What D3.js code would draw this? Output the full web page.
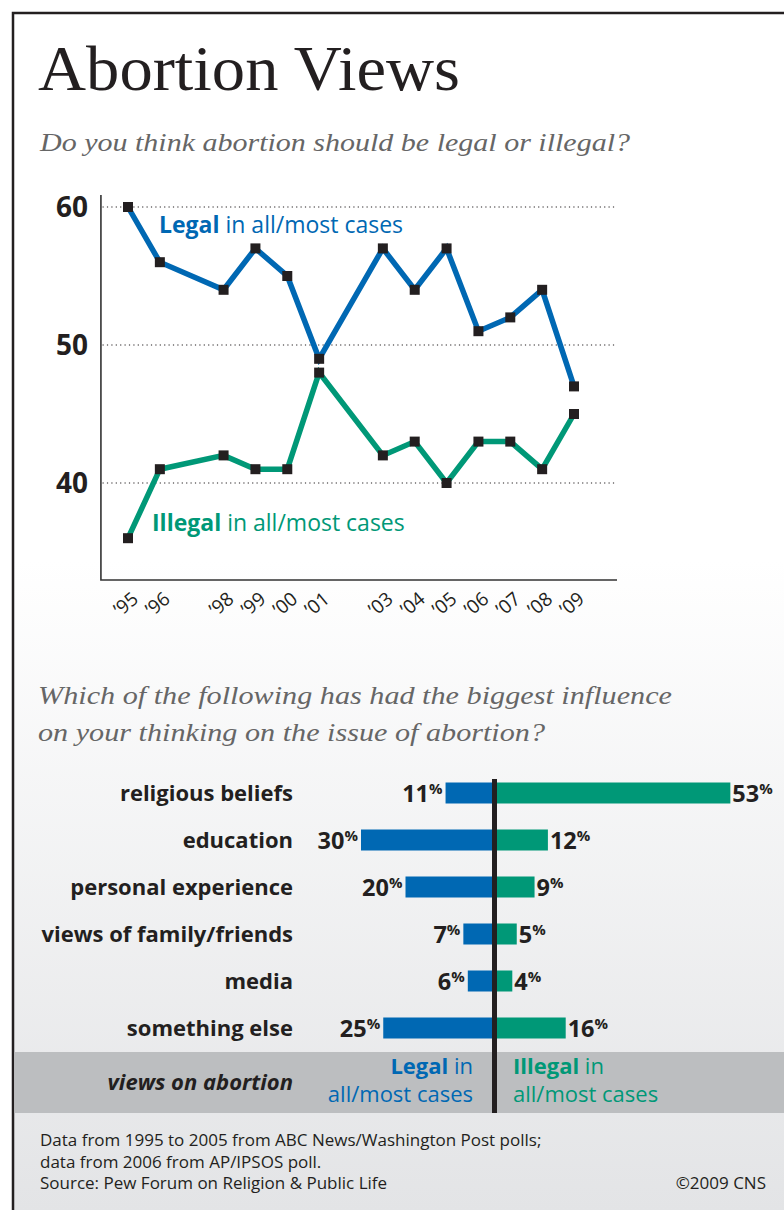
<!DOCTYPE html>
<html><head><meta charset="utf-8">
<script src="https://cdn.jsdelivr.net/npm/d3@7/dist/d3.min.js"></script>
<style>
html,body{margin:0;padding:0;background:#fff;}
svg{display:block;}
</style></head>
<body>
<script>
// ---- data ----
const years = [1995, 1996, 1998, 1999, 2000, 2001, 2003, 2004, 2005, 2006, 2007, 2008, 2009];
const yearLabels = ["’95","’96","’98","’99","’00","’01","’03","’04","’05","’06","’07","’08","’09"];
const legalPct = [60, 56, 54, 57, 55, 49, 57, 54, 57, 51, 52, 54, 47];
const illegalPct = [36, 41, 42, 41, 41, 48, 42, 43, 40, 43, 43, 41, 45];
const yTicks = [40, 50, 60];

const influences = ["religious beliefs", "education", "personal experience", "views of family/friends", "media", "something else"];
const influenceLegal = [11, 30, 20, 7, 6, 25];
const influenceIllegal = [53, 12, 9, 5, 4, 16];

const BLUE = "#0068b3", GREEN = "#009877", INK = "#231f20";
const SANS = "'Open Sans', 'Noto Sans', sans-serif";
const SERIF = "'Liberation Serif', 'DejaVu Serif', serif";

const W = 784, H = 1210;
const svg = d3.select("body").append("svg").attr("width", W).attr("height", H);

const defs = svg.append("defs");
const grad = defs.append("linearGradient").attr("id", "bg").attr("gradientUnits", "userSpaceOnUse")
  .attr("x1", 0).attr("y1", 560).attr("x2", 0).attr("y2", 1210);
grad.append("stop").attr("offset", 0).attr("stop-color", "#ffffff");
grad.append("stop").attr("offset", 1).attr("stop-color", "#e3e4e6");

svg.append("rect").attr("x", 13).attr("y", 13).attr("width", W).attr("height", H).attr("fill", "url(#bg)");
svg.append("path").attr("d", `M13,${H} L13,13 L${W},13`).attr("fill", "none").attr("stroke", INK).attr("stroke-width", 2.5);

// ---- titles ----
svg.append("text").attr("x", 38).attr("y", 90).attr("font-family", SERIF).attr("font-size", 64)
  .attr("fill", INK).attr("textLength", 422).attr("lengthAdjust", "spacingAndGlyphs").text("Abortion Views");
svg.append("text").attr("x", 40).attr("y", 151).attr("font-family", SERIF).attr("font-style", "italic")
  .attr("font-size", 26).attr("fill", "#666").attr("textLength", 590).attr("lengthAdjust", "spacingAndGlyphs")
  .text("Do you think abortion should be legal or illegal?");

// ---- line chart ----
const x = d3.scaleLinear().domain([1995, 2009]).range([128, 574]);
const y = d3.scaleLinear().domain([40, 60]).range([483, 207]);
const lc = svg.append("g");

// grid
lc.selectAll("line.grid").data(yTicks).join("line")
  .attr("x1", x(1994.2)).attr("x2", x(2010.3)).attr("y1", d => y(d)).attr("y2", d => y(d))
  .attr("stroke", INK).attr("stroke-width", 1.2).attr("stroke-dasharray", "1.2,3.2");
// axes
lc.append("path").attr("d", `M${x(1994.15)},${y(60.87)} L${x(1994.15)},${y(32.97)} L${x(2010.35)},${y(32.97)}`)
  .attr("fill", "none").attr("stroke", "#333").attr("stroke-width", 1.6);
lc.selectAll("text.yt").data(yTicks).join("text")
  .attr("x", 88).attr("y", d => y(d) + 10).attr("text-anchor", "end")
  .attr("font-family", SANS).attr("font-weight", 700).attr("font-size", 28).attr("fill", INK).text(d => d);
lc.selectAll("text.xt").data(years).join("text")
  .attr("transform", (d) => `translate(${x(d) + 2},${609}) rotate(-40)`)
  .attr("text-anchor", "middle").attr("font-family", SANS).attr("font-size", 19).attr("fill", INK)
  .text((d, i) => yearLabels[i]);

const line = d3.line().x((d, i) => x(years[i])).y(d => y(d));
[[legalPct, BLUE], [illegalPct, GREEN]].forEach(([vals, col]) => {
  lc.append("path").datum(vals).attr("d", line).attr("fill", "none").attr("stroke", col)
    .attr("stroke-width", 5.5).attr("stroke-linejoin", "miter");
});
[legalPct, illegalPct].forEach(vals => {
  lc.append("g").selectAll("rect").data(vals).join("rect")
    .attr("x", (d, i) => x(years[i]) - 5).attr("y", d => y(d) - 5)
    .attr("width", 10).attr("height", 10).attr("fill", INK);
});
function legendLabel(g, xx, yy, bold, rest, col, anchor) {
  const t = g.append("text").attr("x", xx).attr("y", yy).attr("font-family", SANS).attr("font-size", 23)
    .attr("fill", col).attr("text-anchor", anchor || "start");
  t.append("tspan").attr("font-weight", 700).text(bold);
  t.append("tspan").text(rest);
  return t;
}
legendLabel(lc, 159, 233, "Legal", " in all/most cases", BLUE);
legendLabel(lc, 152, 531, "Illegal", " in all/most cases", GREEN);

// ---- second question ----
svg.append("text").attr("x", 38).attr("y", 704).attr("font-family", SERIF).attr("font-style", "italic")
  .attr("font-size", 26).attr("fill", "#666").attr("textLength", 634).attr("lengthAdjust", "spacingAndGlyphs")
  .text("Which of the following has had the biggest influence");
svg.append("text").attr("x", 38).attr("y", 741).attr("font-family", SERIF).attr("font-style", "italic")
  .attr("font-size", 26).attr("fill", "#666").attr("textLength", 507).attr("lengthAdjust", "spacingAndGlyphs")
  .text("on your thinking on the issue of abortion?");

// ---- bar chart ----
const rows = d3.scalePoint().domain(influences).range([769.5, 1051.5]).padding(0.5);
const cx = 494.5;
const bx = d3.scaleLinear().domain([0, 53]).range([0, 53 * 4.45]);
const barH = 21;
const bc = svg.append("g");

// gray band
bc.append("rect").attr("x", 14.5).attr("y", 1052).attr("width", W).attr("height", 61).attr("fill", "#bcbec0");

bc.selectAll("text.cat").data(influences).join("text")
  .attr("x", 293).attr("y", d => rows(d) + 7.5).attr("text-anchor", "end")
  .attr("font-family", SANS).attr("font-weight", 700).attr("font-size", 22).attr("fill", INK).text(d => d);

bc.selectAll("rect.l").data(influenceLegal).join("rect")
  .attr("x", d => cx - bx(d)).attr("y", (d, i) => rows(influences[i]) - barH / 2)
  .attr("width", d => bx(d)).attr("height", barH).attr("fill", BLUE);
bc.selectAll("rect.r").data(influenceIllegal).join("rect")
  .attr("x", cx).attr("y", (d, i) => rows(influences[i]) - barH / 2)
  .attr("width", d => bx(d)).attr("height", barH).attr("fill", GREEN);

function pctLabel(sel, anchor) {
  sel.attr("text-anchor", anchor).attr("font-family", SANS).attr("font-weight", 700).attr("fill", INK)
    .each(function (d) {
      const t = d3.select(this);
      t.append("tspan").attr("font-size", 23.5).text(d);
      t.append("tspan").attr("font-size", 15).attr("dy", -8).text("%");
    });
}
bc.selectAll("text.lv").data(influenceLegal).join("text")
  .attr("x", d => cx - bx(d) - 3).attr("y", (d, i) => rows(influences[i]) + 9).call(pctLabel, "end");
bc.selectAll("text.rv").data(influenceIllegal).join("text")
  .attr("x", d => cx + bx(d) + 2).attr("y", (d, i) => rows(influences[i]) + 9).call(pctLabel, "start");

// center line
bc.append("line").attr("x1", cx).attr("x2", cx).attr("y1", 779).attr("y2", 1113)
  .attr("stroke", INK).attr("stroke-width", 5);

// band labels
bc.append("text").attr("x", 293).attr("y", 1090).attr("text-anchor", "end").attr("font-family", SANS)
  .attr("font-style", "italic").attr("font-weight", 700).attr("font-size", 22).attr("fill", INK).text("views on abortion");
legendLabel(bc, 473, 1074, "Legal", " in", BLUE, "end").attr("font-size", 22);
bc.append("text").attr("x", 473).attr("y", 1102).attr("text-anchor", "end").attr("font-family", SANS)
  .attr("font-size", 22).attr("fill", BLUE).text("all/most cases");
legendLabel(bc, 513, 1074, "Illegal", " in", GREEN, "start").attr("font-size", 22);
bc.append("text").attr("x", 513).attr("y", 1102).attr("font-family", SANS)
  .attr("font-size", 22).attr("fill", GREEN).text("all/most cases");

// ---- footer ----
const footer = ["Data from 1995 to 2005 from ABC News/Washington Post polls;", "data from 2006 from AP/IPSOS poll.", "Source: Pew Forum on Religion & Public Life"];
svg.append("g").selectAll("text").data(footer).join("text")
  .attr("x", 40).attr("y", (d, i) => 1146 + i * 21.5).attr("font-family", SANS).attr("font-size", 17)
  .attr("fill", INK).text(d => d);
svg.append("text").attr("x", 766).attr("y", 1189).attr("text-anchor", "end").attr("font-family", SANS)
  .attr("font-size", 17).attr("fill", INK).text("©2009 CNS");
</script>
</body></html>
